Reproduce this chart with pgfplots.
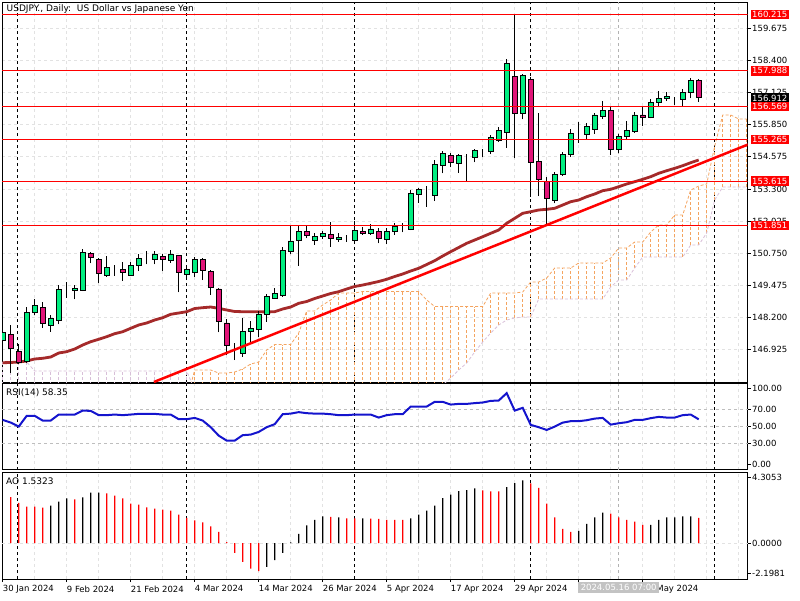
\documentclass[border=0pt]{standalone}
\usepackage{pgfplots}
\pgfplotsset{compat=1.18}
\usepackage{pgfplotstable}
\usepackage{fontspec}
\setmainfont{DejaVu Sans}
\definecolor{bull}{RGB}{0,238,128}
\definecolor{bear}{RGB}{225,20,120}
\definecolor{mabrown}{RGB}{165,42,42}
\definecolor{sandy}{RGB}{244,164,96}
\definecolor{thist}{RGB}{216,191,216}
\definecolor{gridc}{RGB}{226,226,226}
\definecolor{lvl}{RGB}{190,190,190}
\definecolor{rsiblue}{RGB}{20,20,205}
\definecolor{boxgray}{RGB}{195,195,195}

\pgfplotstableread{
i o h l c
0 147.294 147.663 147.227 147.596
1 147.532 147.901 145.996 146.961
2 146.858 147.147 146.354 146.421
3 146.445 148.615 146.393 148.405
4 148.405 148.921 148.298 148.683
5 148.604 148.802 147.794 147.969
6 147.889 148.298 147.635 148.167
7 148.088 149.488 147.929 149.318
8 149.290 149.596 148.985 149.290
9 149.278 149.488 148.921 149.369
10 149.278 150.905 149.250 150.786
11 150.746 150.810 150.350 150.588
12 150.520 150.572 149.556 149.953
13 149.858 150.651 149.818 150.191
14 150.108 150.282 149.858 150.108
15 150.096 150.413 149.659 150.004
16 149.885 150.413 149.873 150.254
17 150.270 150.707 150.044 150.548
18 150.544 150.838 150.310 150.544
19 150.520 150.850 150.310 150.719
20 150.627 150.707 150.056 150.520
21 150.469 150.877 150.373 150.719
22 150.651 150.691 149.199 149.992
23 149.913 150.215 149.794 150.123
24 149.992 150.588 149.818 150.520
25 150.520 150.572 149.687 150.084
26 150.016 150.084 149.092 149.409
27 149.330 149.381 147.611 148.060
28 147.981 148.127 146.711 147.080
29 146.973 147.199 146.512 146.973
30 146.778 148.191 146.643 147.651
31 147.635 148.060 147.238 147.770
32 147.742 148.457 147.413 148.338
33 148.326 149.143 148.032 149.040
34 148.961 149.358 148.933 149.159
35 149.064 150.985 149.024 150.865
36 150.838 151.830 150.707 151.235
37 151.274 151.830 150.254 151.604
38 151.631 151.830 151.342 151.461
39 151.262 151.540 151.076 151.405
40 151.421 151.643 151.314 151.540
41 151.500 152.000 151.008 151.342
42 151.314 151.540 151.207 151.393
43 151.338 151.473 151.207 151.338
44 151.262 152.028 151.207 151.651
45 151.631 151.802 151.473 151.540
46 151.540 151.909 151.473 151.711
47 151.604 151.762 151.143 151.342
48 151.302 151.738 151.104 151.604
49 151.631 151.937 151.473 151.830
50 151.758 151.937 151.580 151.758
51 151.711 153.258 151.671 153.127
52 153.088 153.350 152.754 153.298
53 153.227 153.429 152.596 153.227
54 153.060 154.449 152.822 154.278
55 154.250 154.806 153.921 154.715
56 154.647 154.738 154.159 154.358
57 154.318 154.687 153.945 154.647
58 154.643 154.687 153.615 154.643
59 154.556 154.873 154.358 154.818
60 154.842 154.885 154.556 154.842
61 154.778 155.441 154.687 155.350
62 155.215 155.770 155.175 155.611
63 155.548 158.457 154.937 158.286
64 157.770 160.215 154.516 156.302
65 156.302 157.861 156.064 157.794
66 157.651 157.742 152.992 154.358
67 154.397 156.302 153.020 153.683
68 153.588 153.762 151.909 152.929
69 152.861 153.985 152.731 153.893
70 153.881 154.778 153.826 154.687
71 154.675 155.667 154.580 155.508
72 155.504 155.945 155.135 155.504
73 155.453 155.929 155.270 155.798
74 155.667 156.326 155.481 156.235
75 156.167 156.790 156.076 156.433
76 156.433 156.540 154.647 154.873
77 154.873 155.469 154.738 155.401
78 155.373 155.996 155.242 155.639
79 155.572 156.342 155.532 156.235
80 156.235 156.564 155.798 156.143
81 156.127 156.858 156.104 156.738
82 156.723 157.199 156.540 156.897
83 156.881 157.135 156.790 156.988
84 156.865 156.937 156.631 156.865
85 156.858 157.254 156.592 157.135
86 157.135 157.691 156.897 157.611
87 157.611 157.663 156.762 156.912
}\candles

\pgfplotstableread{
i ma
0 146.405
1 146.413
2 146.433
3 146.473
4 146.552
5 146.580
6 146.631
7 146.790
8 146.842
9 146.949
10 147.108
11 147.238
12 147.334
13 147.437
14 147.556
15 147.635
16 147.770
17 147.901
18 147.981
19 148.100
20 148.191
21 148.326
22 148.377
23 148.429
24 148.556
25 148.588
26 148.615
27 148.564
28 148.496
29 148.437
30 148.429
31 148.429
32 148.429
33 148.417
34 148.429
35 148.536
36 148.615
37 148.762
38 148.834
39 148.953
40 149.052
41 149.151
42 149.223
43 149.330
44 149.429
45 149.488
46 149.556
47 149.627
48 149.715
49 149.826
50 149.925
51 150.044
52 150.151
53 150.302
54 150.453
55 150.639
56 150.810
57 150.977
58 151.143
59 151.274
60 151.405
61 151.540
62 151.671
63 151.937
64 152.135
65 152.334
66 152.397
67 152.465
68 152.492
69 152.532
70 152.663
71 152.794
72 152.861
73 152.992
74 153.100
75 153.231
76 153.286
77 153.389
78 153.496
79 153.588
80 153.683
81 153.786
82 153.921
83 154.024
84 154.119
85 154.223
86 154.342
87 154.449
}\matable

\pgfplotstableread{
i a b
0 144.925 146.433
1 144.925 146.433
2 144.925 146.433
3 144.925 146.433
4 144.925 146.076
5 144.925 146.076
6 144.925 146.076
7 144.925 146.076
8 144.925 146.076
9 144.925 146.076
10 144.925 146.076
11 144.925 146.076
12 144.925 146.076
13 144.925 146.076
14 144.925 146.076
15 144.925 146.076
16 144.925 146.076
17 144.925 146.076
18 144.925 146.076
19 144.925 146.076
20 144.925 146.076
21 144.925 146.076
22 144.925 146.076
23 144.925 146.076
24 146.115 145.322
25 146.115 145.322
26 146.115 145.322
27 145.996 145.322
28 145.996 145.322
29 146.036 145.322
30 146.155 145.322
31 146.354 145.322
32 146.433 145.322
33 146.909 145.322
34 147.127 145.322
35 147.127 145.322
36 147.127 145.322
37 147.584 145.322
38 148.457 145.322
39 148.457 145.322
40 148.695 145.322
41 148.893 145.322
42 149.171 145.322
43 149.171 145.322
44 149.171 145.322
45 149.231 145.322
46 149.231 145.322
47 149.231 145.322
48 149.231 145.322
49 149.231 145.322
50 149.231 145.322
51 149.231 145.322
52 149.231 145.322
53 148.893 145.322
54 148.635 145.322
55 148.635 145.520
56 148.635 145.798
57 148.635 146.115
58 148.635 146.393
59 148.635 146.830
60 148.635 147.227
61 149.171 147.584
62 149.171 147.901
63 149.171 148.100
64 149.171 148.179
65 149.211 148.219
66 149.608 148.219
67 149.608 148.933
68 149.766 148.933
69 150.163 148.933
70 150.163 148.933
71 150.163 148.933
72 150.361 148.933
73 150.361 148.933
74 150.361 148.933
75 150.361 148.933
76 150.560 149.409
77 150.957 149.687
78 150.957 149.687
79 151.195 150.163
80 151.195 150.600
81 151.592 150.600
82 151.869 150.600
83 151.869 150.600
84 152.266 150.600
85 152.266 150.600
86 153.258 151.076
87 153.417 151.076
88 153.496 151.552
89 155.004 152.861
90 156.235 153.377
91 156.235 153.377
92 156.076 153.377
93 156.076 153.377
}\cloud

\pgfplotstableread{
i v
0 57.7
1 54.6
2 49.9
3 62.4
4 62.4
5 56.9
6 56.9
7 63.9
8 63.9
9 63.9
10 68.5
11 68.2
12 63.2
13 63.2
14 63.9
15 63.2
16 63.9
17 64.7
18 64.7
19 64.7
20 63.9
21 63.9
22 58.5
23 58.5
24 60.0
25 56.9
26 49.2
27 39.4
28 33.6
29 33.6
30 39.9
31 40.6
32 43.7
33 49.2
34 52.7
35 64.3
36 65.0
37 66.7
38 65.5
39 65.0
40 65.0
41 64.3
42 63.2
43 63.2
44 63.9
45 63.9
46 63.9
47 60.4
48 63.2
49 64.3
50 64.3
51 73.2
52 73.2
53 73.2
54 78.7
55 78.7
56 75.5
57 76.3
58 76.3
59 77.2
60 77.9
61 79.8
62 80.2
63 88.8
64 68.5
65 71.7
66 51.9
67 49.2
68 46.0
69 49.9
70 54.5
71 56.2
72 56.2
73 57.3
74 59.2
75 60.0
76 52.2
77 53.8
78 55.0
79 57.7
80 57.7
81 59.7
82 61.2
83 60.4
84 60.4
85 63.2
86 63.9
87 58.35
}\rsi

\pgfplotstableread{
i v
1 2.80
2 2.45
3 2.22
4 2.22
5 2.16
9 2.66
13 3.03
14 2.90
15 2.72
16 2.41
17 2.35
18 2.18
19 2.10
20 2.04
21 1.98
22 1.73
23 1.54
24 1.38
25 1.26
26 1.01
27 0.68
28 0.06
29 -0.60
30 -1.15
31 -1.56
32 -1.71
41 1.59
43 1.50
44 1.50
46 1.49
47 1.48
48 1.42
49 1.42
50 1.42
60 3.21
61 3.15
62 3.15
66 3.64
67 3.36
68 2.41
69 1.56
70 0.86
71 0.68
76 1.79
77 1.56
78 1.42
79 1.30
80 1.11
87 1.5323
}\aored

\pgfplotstableread{
i v
6 2.29
7 2.53
8 2.72
10 2.78
11 3.07
12 3.07
33 -1.46
34 -1.05
35 -0.60
36 0.04
37 0.56
38 1.07
39 1.42
40 1.63
42 1.57
45 1.50
51 1.50
52 1.73
53 1.98
54 2.29
55 2.74
56 2.96
57 3.17
58 3.23
59 3.34
63 3.42
64 3.66
65 3.83
72 0.74
73 1.17
74 1.56
75 1.85
81 1.11
82 1.42
83 1.56
84 1.56
85 1.63
86 1.63
}\aoblack

\pgfplotsset{
  panel/.style={scale only axis, width=745.5pt, xmin=-0.0875, xmax=93.1,
    enlargelimits=false, anchor=north west,
    axis line style={line width=0.8pt},
    tick label style={font=\fontsize{8.5}{10}\selectfont},
    yticklabel pos=right, ytick pos=right,
    tick align=outside, major tick length=3pt, minor tick length=0pt,
    y tick style={line width=0.8pt, black},
    x tick style={draw=none},
    yticklabel style={anchor=west, inner xsep=1.5pt, inner ysep=1.5pt},
  },
  bggrid/.style={
    xtick={0,8,...,80}, minor xtick={4,12,20,28,36,44,52,60,68,76,84,88,92},
    xmajorgrids, xminorgrids,
    major grid style={gridc, dash pattern=on 3pt off 3pt, line width=0.8pt},
    minor grid style={gridc, dash pattern=on 3pt off 3pt, line width=0.8pt},
  },
  seps/.style={
    extra x ticks={1.9,22.9,43.9,65.9,88.9}, extra x tick labels={},
    extra x tick style={grid=major, major grid style={black, dash pattern=on 3pt off 3pt, line width=0.8pt}},
  },
}

\begin{document}
\begin{tikzpicture}
\useasboundingbox (0,0) rectangle (800pt,-600pt);

% ---------- main panel: background layer ----------
\begin{axis}[panel, bggrid, seps, at={(2pt,-2pt)}, height=380pt,
  ymin=145.639, ymax=160.719, xticklabels={},
  ytick={146.925,148.200,149.475,150.750,152.025,153.300,154.575,155.850,157.125,158.400,159.675},
  yticklabels={146.925,148.200,149.475,150.750,152.025,153.300,154.575,155.850,157.125,158.400,159.675},
  ymajorgrids]
\addplot[draw=none, mark=none, forget plot, error bars/.cd, y dir=plus, y explicit, error mark=none,
  error bar style={draw=thist, line width=0.8pt, dash pattern=on 3pt off 2pt}]
  table[x=i, y=a, y error plus expr={max(\thisrow{b}-\thisrow{a},0)}]{\cloud};
\addplot[draw=none, mark=none, forget plot, error bars/.cd, y dir=plus, y explicit, error mark=none,
  error bar style={draw=sandy, line width=0.8pt, dash pattern=on 3pt off 2pt}]
  table[x=i, y=b, y error plus expr={max(\thisrow{a}-\thisrow{b},0)}]{\cloud};
\addplot[sandy, line width=0.8pt, dash pattern=on 3pt off 2pt, forget plot] table[x=i, y=a]{\cloud};
\addplot[thist, line width=0.8pt, dash pattern=on 3pt off 2pt, forget plot] table[x=i, y=b]{\cloud};
\addplot[gray!60, line width=0.8pt, dash pattern=on 3pt off 3pt, forget plot] coordinates {(77,145.639) (77,160.719)};
\addplot[mabrown, line width=2.8pt, forget plot] table[x=i, y=ma]{\matable};
\addplot[draw=none, mark=none, forget plot, error bars/.cd, y dir=plus, y explicit, error mark=none,
  error bar style={draw=black, solid, line width=1pt}]
  table[x=i, y=l, y error plus expr={\thisrow{h}-\thisrow{l}}]{\candles};
\end{axis}

% ---------- main panel: candle bodies ----------
\begin{axis}[panel, at={(2pt,-2pt)}, height=380pt,
  ymin=145.639, ymax=160.719, axis line style={draw=none},
  xtick=\empty, ytick=\empty,
  ybar stacked, bar width=5pt,
  extra y ticks={156.912}, extra y tick labels={156.912},
  extra y tick style={major tick length=0pt, tick label style={fill=black, text=white, xshift=3pt, inner xsep=1.8pt}}]
\addplot[draw=none, fill=none] table[x=i, y expr={min(\thisrow{o},\thisrow{c})}]{\candles};
\addplot[draw=black, fill=bull, line width=0.9pt] table[x=i, y expr={max(\thisrow{c}-\thisrow{o},0)}]{\candles};
\addplot[draw=black, fill=bear, line width=0.9pt] table[x=i, y expr={max(\thisrow{o}-\thisrow{c},0)}]{\candles};
\end{axis}

% ---------- main panel: objects ----------
\begin{axis}[panel, at={(2pt,-2pt)}, height=380pt,
  ymin=145.639, ymax=160.719, axis line style={draw=none},
  xtick=\empty, ytick=\empty,
  extra y ticks={151.851,153.615,155.265,156.569,157.988,160.215},
  extra y tick labels={151.851,153.615,155.265,156.569,157.988,160.215},
  extra y tick style={major tick length=0pt, tick label style={fill=red, text=white, xshift=3pt, inner xsep=1.8pt}}]
\addplot[red, line width=1pt] coordinates {(-1,151.851) (95,151.851)};
\addplot[red, line width=1pt] coordinates {(-1,153.615) (95,153.615)};
\addplot[red, line width=1pt] coordinates {(-1,155.265) (95,155.265)};
\addplot[red, line width=1pt] coordinates {(-1,156.569) (95,156.569)};
\addplot[red, line width=1pt] coordinates {(-1,157.988) (95,157.988)};
\addplot[red, line width=1pt] coordinates {(-1,160.215) (95,160.215)};
\addplot[red, line width=2.5pt] coordinates {(18.9,145.639) (94,155.17)};
\end{axis}

% ---------- RSI panel ----------
\begin{axis}[panel, bggrid, seps, at={(2pt,-383.5pt)}, height=86pt,
  ymin=0, ymax=100, xticklabels={},
  ytick={6,30,50,70,94.4}, yticklabels={0.00,30.00,50.00,70.00,100.00},
  extra y ticks={30,50,70}, extra y tick labels={},
  extra y tick style={grid=major, major tick length=0pt, major grid style={lvl, dash pattern=on 3pt off 3pt, line width=0.8pt}}]
\addplot[gray!60, line width=0.8pt, dash pattern=on 3pt off 3pt, forget plot] coordinates {(77,0) (77,100)};
\addplot[rsiblue, line width=2pt] table[x=i, y=v]{\rsi};
\end{axis}

% ---------- AO panel ----------
\begin{axis}[panel, bggrid, at={(2pt,-472.5pt)}, height=106.5pt,
  ymin=-2.1981, ymax=4.3053,
  x tick style={draw=black, line width=0.8pt}, xtick pos=bottom,
  xticklabels={30 Jan 2024,9 Feb 2024,21 Feb 2024,4 Mar 2024,14 Mar 2024,26 Mar 2024,5 Apr 2024,17 Apr 2024,29 Apr 2024,9 May 2024,21 May 2024},
  xticklabel style={anchor=north west, inner xsep=0pt},
  ytick={-1.85,0,4.03}, yticklabels={-2.1981,0.0000,4.3053},
  extra y ticks={0}, extra y tick labels={},
  extra y tick style={grid=major, major tick length=0pt}]
\addplot[black, line width=0.8pt, dash pattern=on 3pt off 3pt, forget plot] coordinates {(1.9,-2.1981) (1.9,4.3053)};
\addplot[black, line width=0.8pt, dash pattern=on 3pt off 3pt, forget plot] coordinates {(22.9,-2.1981) (22.9,4.3053)};
\addplot[black, line width=0.8pt, dash pattern=on 3pt off 3pt, forget plot] coordinates {(43.9,-2.1981) (43.9,4.3053)};
\addplot[black, line width=0.8pt, dash pattern=on 3pt off 3pt, forget plot] coordinates {(65.9,-2.1981) (65.9,4.3053)};
\addplot[black, line width=0.8pt, dash pattern=on 3pt off 3pt, forget plot] coordinates {(88.9,-2.1981) (88.9,4.3053)};
\addplot[gray!60, line width=0.8pt, dash pattern=on 3pt off 3pt, forget plot] coordinates {(77,-2.1981) (77,4.3053)};
\addplot[ybar, bar width=1.2pt, bar shift=0pt, fill=red, draw=none] table[x=i, y=v]{\aored};
\addplot[ybar, bar width=1.2pt, bar shift=0pt, fill=black, draw=none] table[x=i, y=v]{\aoblack};
\end{axis}

% ---------- AO overlay: crosshair date box ----------
\begin{axis}[panel, at={(2pt,-472.5pt)}, height=106.5pt,
  ymin=-2.1981, ymax=4.3053, axis line style={draw=none},
  xtick=\empty, ytick=\empty, xtick pos=bottom,
  extra x ticks={77}, extra x tick labels={2024.05.16 07:00},
  extra x tick style={tick label style={fill=boxgray, text=white, anchor=north, inner xsep=2.5pt, inner ysep=2pt}}]
\end{axis}

\node[anchor=west, inner sep=0pt, font=\fontsize{9}{10.8}\selectfont] at (6.5pt,-9.5pt) {USDJPY., Daily:\ \ US Dollar vs Japanese Yen};
\node[anchor=west, inner sep=0pt, font=\fontsize{9}{10.8}\selectfont] at (6pt,-393pt) {RSI(14) 58.35};
\node[anchor=west, inner sep=0pt, font=\fontsize{9}{10.8}\selectfont] at (6pt,-481pt) {AO 1.5323};
\end{tikzpicture}
\end{document}
